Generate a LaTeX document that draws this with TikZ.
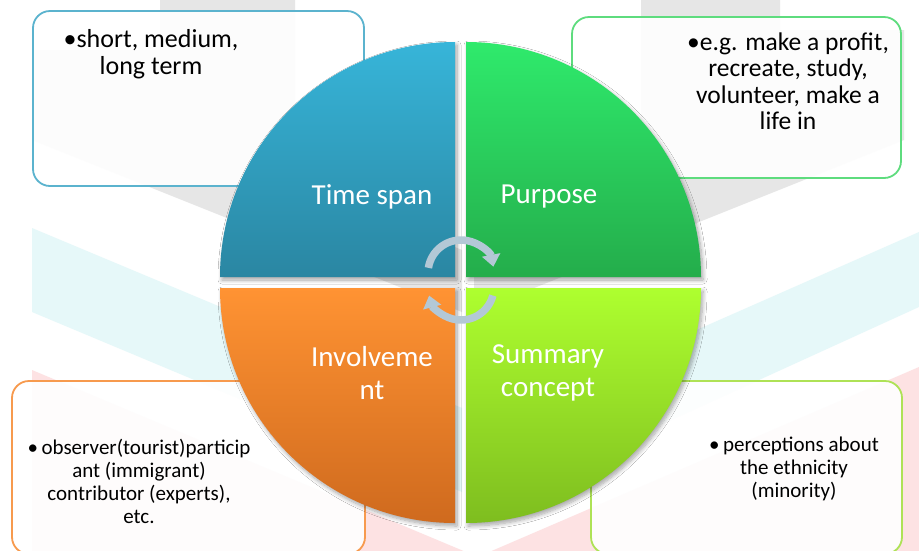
\documentclass[tikz,border=0pt]{standalone}
\usepackage{fontspec}
\setmainfont{Carlito}
\usetikzlibrary{arrows.meta,shadows.blur}
\definecolor{wmgray}{HTML}{E6E6E6}
\definecolor{wmcyan}{HTML}{E6F8F9}
\definecolor{wmpink}{HTML}{FDE2E3}
\definecolor{bblue}{HTML}{5BB3CE}
\definecolor{bgreen}{HTML}{5EDC7E}
\definecolor{borange}{HTML}{F79A4E}
\definecolor{blime}{HTML}{AEE256}
\definecolor{qblueT}{HTML}{37B5D9}
\definecolor{qblueB}{HTML}{2A86A2}
\definecolor{qgreenT}{HTML}{2FEA6C}
\definecolor{qgreenB}{HTML}{24AD4B}
\definecolor{qorangeT}{HTML}{FF9333}
\definecolor{qorangeB}{HTML}{CF6A1E}
\definecolor{qlimeT}{HTML}{AEFF2F}
\definecolor{qlimeB}{HTML}{7EBD1F}
\definecolor{arrowc}{HTML}{B3C8D6}
\tikzset{
  infobox/.style={line width=1.8pt, rounded corners=17pt, fill=white, fill opacity=0.9},
  quad/.style={blur shadow={shadow xshift=2pt, shadow yshift=-3pt, shadow blur radius=4pt, shadow blur steps=8, shadow opacity=35}},
  qlabel/.style={text=white, align=center, font=\fontsize{29}{33}\selectfont, inner sep=0pt},
  bigtext/.style={text=black, align=center, font=\fontsize{25.5}{26.5}\selectfont, inner sep=0pt},
  smalltext/.style={text=black, align=center, font=\fontsize{21}{23}\selectfont, inner sep=0pt},
  cycarrow/.style={draw=arrowc, line width=7.5pt, -{Triangle[width=18pt,length=12pt]}}
}
\begin{document}
\begin{tikzpicture}[x=1pt,y=-1pt]
\useasboundingbox (0,0) rectangle (919,550);
\fill[white] (0,0) rectangle (919,550);
% faint watermark
\fill[wmgray] (32,50) -- (160,50) -- (160,0) -- (295,0) -- (295,180) -- (462,250) -- (462,312) -- (32,140) -- cycle;
\fill[wmgray] (904,30) -- (780,30) -- (780,0) -- (641,0) -- (641,180) -- (474,250) -- (474,312) -- (904,140) -- cycle;
\fill[wmcyan] (32,228) -- (462,408) -- (462,492) -- (32,312) -- cycle;
\fill[wmcyan] (919,232) -- (474,428) -- (474,510) -- (919,307) -- cycle;
\fill[wmpink] (32,370) -- (466,552) -- (466,600) -- (32,600) -- cycle;
\fill[wmpink] (919,367) -- (466,562) -- (466,600) -- (919,600) -- cycle;
% info boxes
\draw[infobox, draw=bblue] (33,11) rectangle (364,186);
\draw[infobox, draw=bgreen] (572,17) rectangle (901,178);
\draw[infobox, draw=borange] (12,381) rectangle (365,554);
\draw[infobox, draw=blime] (591,381) rectangle (902,554);
\node[bigtext, font=\fontsize{26}{27.5}\selectfont] (tspan) at (151,54) {•short, medium,\\long term};
\node[bigtext] (tpurp) at (788,81) {•e.g. make a profit,\\recreate, study,\\volunteer, make a\\life in};
\node[smalltext] (tinv) at (139,481) {•\,observer(tourist)particip\\ant (immigrant)\\contributor (experts),\\etc.};
\node[smalltext] (tsum) at (794,469) {•\,perceptions about\\the ethnicity\\(minority)};
% quadrants
\path[quad, top color=qblueT, bottom color=qblueB] (455,277) -- (220,277) arc[start angle=180, end angle=270, radius=235] -- cycle;
\path[quad, top color=qgreenT, bottom color=qgreenB] (466,277) -- (466,42) arc[start angle=270, end angle=360, radius=235] -- cycle;
\path[quad, top color=qorangeT, bottom color=qorangeB] (455,288) -- (220,288) arc[start angle=180, end angle=90, radius=235] -- cycle;
\path[quad, top color=qlimeT, bottom color=qlimeB] (466,288) -- (701,288) arc[start angle=0, end angle=90, radius=235] -- cycle;
\node[qlabel] (qts) at (372,197) {Time span};
\node[qlabel] (qpu) at (549,197) {Purpose};
\node[qlabel] (qin) at (372,373) {Involveme\\nt};
\node[qlabel] (qsu) at (548,373) {Summary\\concept};
% cycle arrows
\coordinate (ctop) at (461,273);
\coordinate (cbot) at (461,287);
\draw[cycarrow] (ctop) ++(189:33) arc[start angle=189, end angle=349, radius=33];
\draw[cycarrow] (cbot) ++(15:33) arc[start angle=15, end angle=165, radius=33];
\end{tikzpicture}
\end{document}
